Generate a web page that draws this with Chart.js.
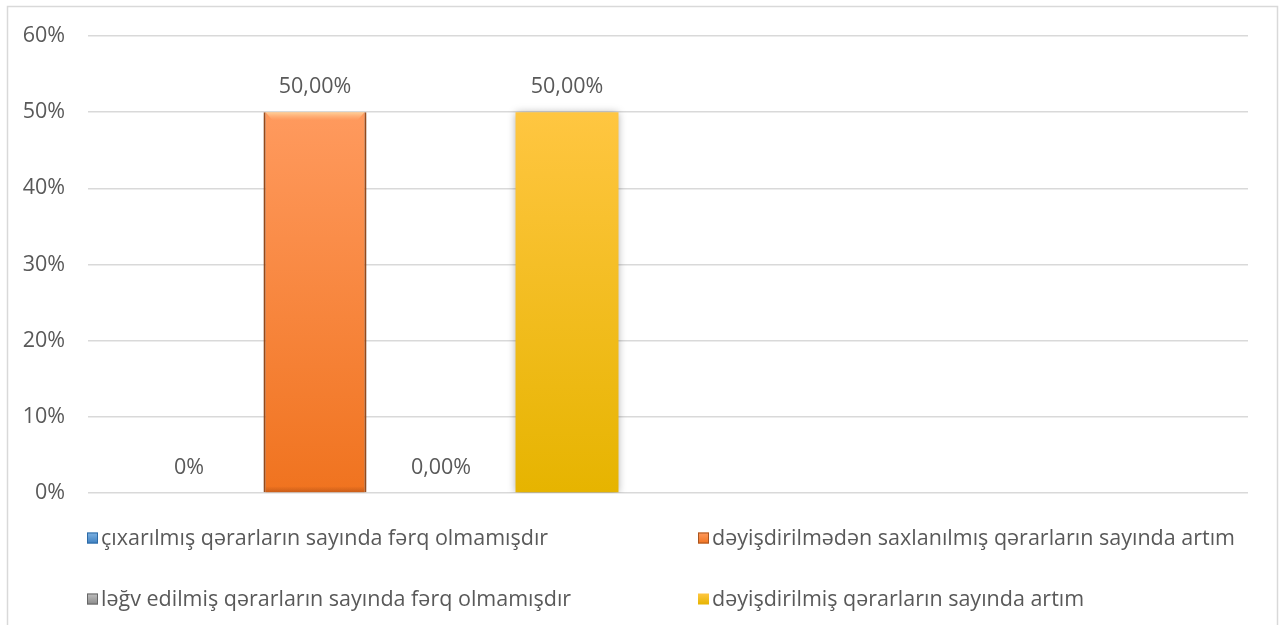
<!DOCTYPE html>
<html>
<head>
<meta charset="utf-8">
<script src="https://cdn.jsdelivr.net/npm/chart.js@4/dist/chart.umd.min.js"></script>
<style>
html,body{margin:0;padding:0;background:#fff;}
#wrap{position:relative;width:1283px;height:625px;}
</style>
</head>
<body>
<div id="wrap"><canvas id="c" width="1283" height="625"></canvas></div>
<script>
// ---- data ----
const categories = ['', ''];
const seriesNames = [
  'çıxarılmış qərarların sayında fərq olmamışdır',
  'dəyişdirilmədən saxlanılmış qərarların sayında artım',
  'ləğv edilmiş qərarların sayında fərq olmamışdır',
  'dəyişdirilmiş qərarların sayında artım'
];
const seriesA = [0, null];
const seriesB = [50, null];
const seriesC = [0, null];
const seriesD = [50, null];
const labelDecimals = [0, 2, 2, 2];
const yTicks = [0, 10, 20, 30, 40, 50, 60];

const FONT = '"Open Sans", sans-serif';
const FSIZE = 21.5;
const TXT = '#595959';

const palettes = [
  ['#7fb3e3', '#3d7fc0', '#2d6aa6'],
  ['#ff9a5e', '#f0731f', '#a8541f'],
  ['#c0c0c0', '#8a8a8a', '#666666'],
  ['#ffc641', '#e6b400', 'rgba(0,0,0,0)']
];

function fmt(v, d) {
  return v.toFixed(d).replace('.', ',') + '%';
}

const seriesValues = [seriesA, seriesB, seriesC, seriesD];

const datasets = seriesValues.map((vals, i) => ({
  label: seriesNames[i],
  data: vals,
  backgroundColor: (c) => {
    const a = c.chart.chartArea;
    if (!a) return palettes[i][1];
    const yTop = c.chart.scales.y.getPixelForValue(50);
    const g = c.chart.ctx.createLinearGradient(0, yTop, 0, a.bottom);
    g.addColorStop(0, palettes[i][0]);
    g.addColorStop(1, palettes[i][1]);
    return g;
  },
  borderColor: palettes[i][2],
  borderWidth: i === 3 ? 0 : {left: 2, right: 2, top: 0, bottom: 0},
  borderSkipped: false,
  categoryPercentage: 0.869,
  barPercentage: 0.817
}));

const framePlugin = {
  id: 'frame',
  beforeDraw(chart) {
    const ctx = chart.ctx;
    ctx.save();
    ctx.fillStyle = '#fff';
    ctx.fillRect(0, 0, chart.width, chart.height);
    ctx.strokeStyle = '#d9d9d9';
    ctx.lineWidth = 1.5;
    ctx.strokeRect(7.5, 6.5, 1270, 640);
    ctx.restore();
  }
};

const shadowPlugin = {
  id: 'shadow',
  beforeDatasetDraw(chart, args) {
    const ctx = chart.ctx;
    ctx.save();
    ctx.shadowColor = 'rgba(0,0,0,0.35)';
    ctx.shadowBlur = 8;
    ctx.shadowOffsetX = 0;
    ctx.shadowOffsetY = 1;
  },
  afterDatasetDraw(chart, args) {
    const ctx = chart.ctx;
    ctx.restore();
    if (args.index === 1) {
      const meta = args.meta;
      meta.data.forEach((bar, j) => {
        if (seriesValues[1][j] == null) return;
        const x0 = bar.x - bar.width / 2, x1 = bar.x + bar.width / 2;
        const g = ctx.createLinearGradient(0, bar.y, 0, bar.y + 8);
        g.addColorStop(0, 'rgba(255,215,160,0.9)');
        g.addColorStop(1, 'rgba(255,190,140,0)');
        ctx.save();
        ctx.fillStyle = g;
        ctx.beginPath();
        ctx.moveTo(x0 + 2, bar.y);
        ctx.lineTo(x1 - 2, bar.y);
        ctx.lineTo(x1 - 9, bar.y + 8);
        ctx.lineTo(x0 + 9, bar.y + 8);
        ctx.closePath();
        ctx.fill();
        const gb = ctx.createLinearGradient(0, bar.base - 6, 0, bar.base);
        gb.addColorStop(0, 'rgba(170,75,20,0)');
        gb.addColorStop(1, 'rgba(170,75,20,0.55)');
        ctx.fillStyle = gb;
        ctx.fillRect(x0 + 2, bar.base - 6, bar.width - 4, 6);
        ctx.restore();
      });
    }
  }
};

const labelPlugin = {
  id: 'valueLabels',
  afterDatasetsDraw(chart) {
    const ctx = chart.ctx;
    ctx.save();
    ctx.font = FSIZE + 'px ' + FONT;
    ctx.fillStyle = TXT;
    ctx.textAlign = 'center';
    ctx.textBaseline = 'middle';
    chart.data.datasets.forEach((ds, i) => {
      const meta = chart.getDatasetMeta(i);
      meta.data.forEach((bar, j) => {
        const v = ds.data[j];
        if (v == null) return;
        ctx.fillText(fmt(v, labelDecimals[i]), bar.x, bar.y - 25);
      });
    });
    ctx.restore();
  }
};

const legendPlugin = {
  id: 'customLegend',
  afterDraw(chart) {
    const ctx = chart.ctx;
    const a = chart.chartArea;
    const cols = [a.left - 1, a.left + 610];
    const rows = [a.bottom + 45, a.bottom + 106];
    ctx.save();
    ctx.font = FSIZE + 'px ' + FONT;
    ctx.textBaseline = 'middle';
    ctx.textAlign = 'left';
    [0, 1, 2, 3].forEach((i, k) => {
      const x = cols[k % 2];
      const y = rows[Math.floor(k / 2)];
      const s = 11;
      const g = ctx.createLinearGradient(0, y - s / 2, 0, y + s / 2);
      g.addColorStop(0, palettes[i][0]);
      g.addColorStop(1, palettes[i][1]);
      ctx.fillStyle = g;
      ctx.fillRect(x, y - s / 2, s, s);
      if (i !== 3) {
        ctx.strokeStyle = palettes[i][2];
        ctx.lineWidth = 1;
        ctx.strokeRect(x + 0.5, y - s / 2 + 0.5, s - 1, s - 1);
      }
      ctx.fillStyle = TXT;
      ctx.fillText(seriesNames[i], x + s + 3, y + 1);
    });
    ctx.restore();
  }
};

new Chart(document.getElementById('c'), {
  type: 'bar',
  data: { labels: categories, datasets },
  options: {
    responsive: false,
    animation: false,
    devicePixelRatio: 1,
    layout: { padding: { left: 8, top: 36, right: 35, bottom: 132 } },
    plugins: { legend: { display: false }, tooltip: { enabled: false } },
    scales: {
      x: { display: false },
      y: {
        min: 0, max: 60,
        afterFit(scale) { scale.width = 80; },
        afterBuildTicks(scale) { scale.ticks = yTicks.map(v => ({ value: v })); },
        border: { display: false },
        grid: { color: '#d9d9d9', lineWidth: 1.5, tickLength: 0, drawTicks: false },
        ticks: {
          padding: 23,
          color: TXT,
          font: { family: FONT, size: FSIZE },
          callback: (v) => v + '%'
        }
      }
    }
  },
  plugins: [framePlugin, shadowPlugin, labelPlugin, legendPlugin]
});
</script>
</body>
</html>
